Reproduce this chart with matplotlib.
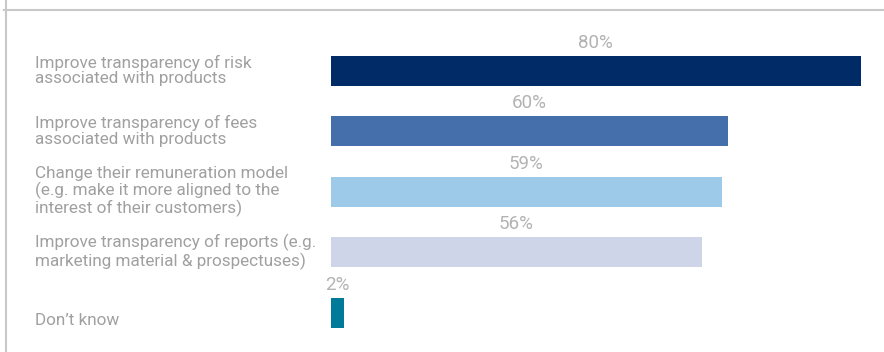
import matplotlib
matplotlib.use("Agg")
import matplotlib.pyplot as plt
from matplotlib.lines import Line2D
from matplotlib import font_manager
from matplotlib.transforms import blended_transform_factory

categories = [
    "Improve transparency of risk\nassociated with products",
    "Improve transparency of fees\nassociated with products",
    "Change their remuneration model\n(e.g. make it more aligned to the\ninterest of their customers)",
    "Improve transparency of reports (e.g.\nmarketing material & prospectuses)",
    "\nDon\u2019t know",
]
values = [80, 60, 59, 56, 2]
value_labels = ["80%", "60%", "59%", "56%", "2%"]
colors = ["#002B66", "#446FAA", "#9DCAE9", "#CED5E8", "#007A99"]

names = {f.name for f in font_manager.fontManager.ttflist}
family = "Roboto" if "Roboto" in names else "DejaVu Sans"
plt.rcParams["font.family"] = [family, "DejaVu Sans"]

W, H, DPI = 884, 352, 100
fig = plt.figure(figsize=(W / DPI, H / DPI), dpi=DPI)
ax = fig.add_axes([0, 0, 1, 1])
ax.set_axis_off()

# bars start at x=331 px, 6.62 px per percentage point
x0_px, px_per_unit = 331, 6.62
ax.set_xlim(-x0_px / px_per_unit, (W - x0_px) / px_per_unit)
first_px, pitch_px = 70.5, 60.5
ax.set_ylim((H - first_px) / pitch_px, -first_px / pitch_px)

ypos = list(range(len(values)))
bar_h = 30 / pitch_px
ax.barh(ypos, values, height=bar_h, color=colors, left=0)

for y, v, lab in zip(ypos, values, value_labels):
    ax.annotate(lab, xy=(v / 2, y - bar_h / 2), xytext=(0, 5.5),
                textcoords="offset points", ha="center", va="baseline",
                fontsize=13.5, color="#B3B3B3", fontweight="normal")

label_tr = blended_transform_factory(fig.transFigure, ax.transData)
for y, cat in zip(ypos, categories):
    ax.text(35 / W, y, cat, transform=label_tr,
            ha="left", va="center", fontsize=12.3, color="#A0A0A0",
            linespacing=1.08, fontweight="normal")

# thin frame lines along the top and left edge
frame_c = "#C8C8C8"
fig.add_artist(Line2D([4 / W, 1], [1 - 10 / H, 1 - 10 / H], transform=fig.transFigure,
                      color=frame_c, lw=1.5))
fig.add_artist(Line2D([6 / W, 6 / W], [0, 1], transform=fig.transFigure,
                      color=frame_c, lw=1.5))

fig.savefig("out.png", dpi=DPI)
